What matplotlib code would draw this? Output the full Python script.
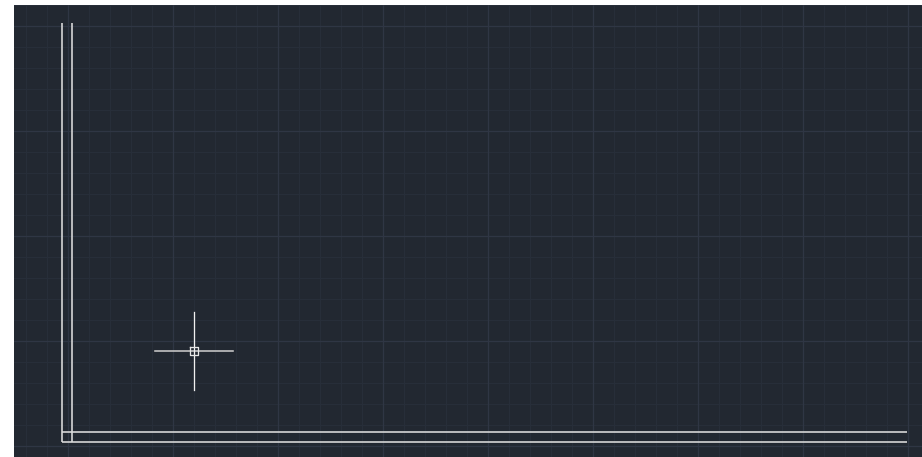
import numpy as np
import matplotlib
matplotlib.use("Agg")
import matplotlib.pyplot as plt

W, H = 922, 457
# canvas extent (pixel units) of the dark drawing area
canvas_x = [14, 922]
canvas_y = [5, 457]

# grid definition
minor_step = 21
major_every = 5
grid_origin_x = 173
grid_origin_y = 446

# drawn geometry: polylines (x list, y list)
left_outer = ([62, 62], [23, 442])
left_inner = ([72, 72], [23, 442])
bottom_inner = ([62, 907], [432, 432])
bottom_outer = ([62, 907], [442, 442])
geometry = [left_outer, left_inner, bottom_inner, bottom_outer]

# cursor
cursor_center = (194, 351)
cursor_half_w = 39
cursor_half_h = 39
cursor_box = 4

BG = "#222831"
MINOR = "#272e39"
MAJOR = "#2f3644"
LINE = "#dcdcdc"

fig = plt.figure(figsize=(W / 100, H / 100), dpi=100)
fig.patch.set_facecolor("white")
ax = fig.add_axes([canvas_x[0] / W, 0, (canvas_x[1] - canvas_x[0]) / W, (canvas_y[1] - canvas_y[0]) / H])
ax.set_xlim(canvas_x[0], canvas_x[1])
ax.set_ylim(canvas_y[1], canvas_y[0])
ax.set_facecolor(BG)
for s in ax.spines.values():
    s.set_visible(False)
ax.set_xticks([])
ax.set_yticks([])

px = 0.72
# grid lines
k0 = int(np.floor((canvas_x[0] - grid_origin_x) / minor_step))
k1 = int(np.ceil((canvas_x[1] - grid_origin_x) / minor_step))
for k in range(k0, k1 + 1):
    x = grid_origin_x + k * minor_step
    major = (k % major_every == 0)
    ax.axvline(x, color=MAJOR if major else MINOR, lw=px * (1.3 if major else 1), zorder=1 if not major else 2)
k0 = int(np.floor((canvas_y[0] - grid_origin_y) / minor_step))
k1 = int(np.ceil((canvas_y[1] - grid_origin_y) / minor_step))
for k in range(k0, k1 + 1):
    y = grid_origin_y + k * minor_step
    major = (k % major_every == 0)
    ax.axhline(y, color=MAJOR if major else MINOR, lw=px * (1.3 if major else 1), zorder=1 if not major else 2)

for xs, ys in geometry:
    ax.plot(xs, ys, color=LINE, lw=1.6 * px, solid_capstyle="butt", zorder=5)

cx, cy = cursor_center
ax.plot([cx - cursor_half_w, cx + cursor_half_w], [cy, cy], color="#c8c8c8", lw=1.6 * px, zorder=6)
ax.plot([cx, cx], [cy - cursor_half_h, cy + cursor_half_h], color="#f0f0f0", lw=1.3 * px, zorder=6)
bx = [cx - cursor_box, cx + cursor_box, cx + cursor_box, cx - cursor_box, cx - cursor_box]
by = [cy - cursor_box, cy - cursor_box, cy + cursor_box, cy + cursor_box, cy - cursor_box]
ax.plot(bx, by, color="#e6e6e6", lw=1.3 * px, zorder=7)

fig.savefig("out.png", dpi=100, facecolor=fig.get_facecolor())
